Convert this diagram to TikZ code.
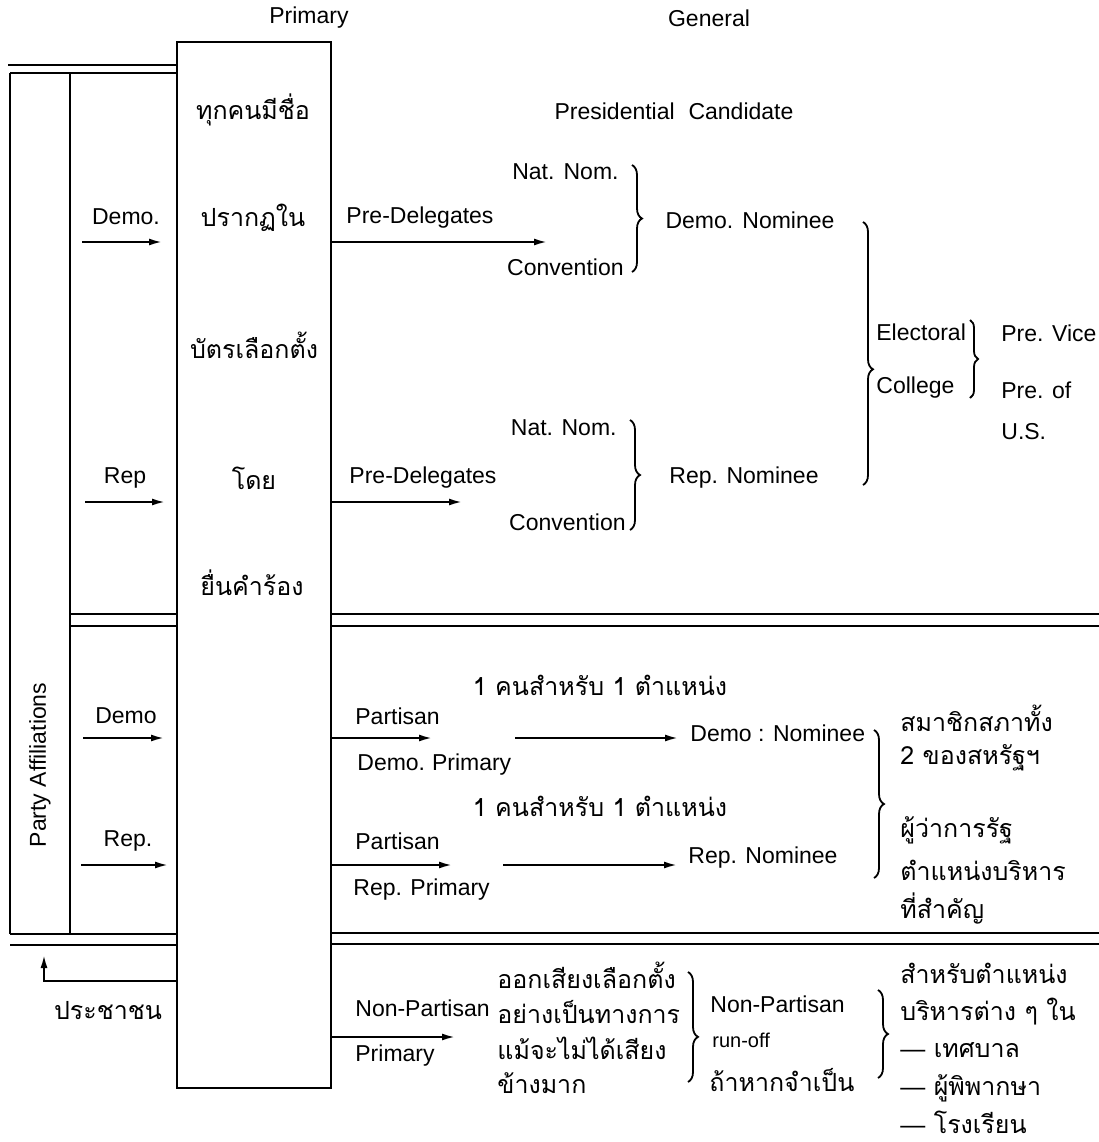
\documentclass[tikz,border=0pt]{standalone}
\usepackage{fontspec}
\setmainfont{Liberation Sans}
\newfontfamily\thai[Script=Thai]{Loma}
\usetikzlibrary{arrows.meta, decorations.pathreplacing}

\tikzset{
  lbl/.style={font=\fontsize{11.5}{13}\selectfont, inner sep=0pt},
  sml/.style={font=\fontsize{10}{12}\selectfont, inner sep=0pt},
  th/.style={font=\thai\fontsize{12.5}{15}\selectfont, inner sep=0pt},
  arr/.style={line width=1pt, -{Latex[length=6.5pt,width=3.5pt]}},
  brc/.style={line width=0.9pt, decorate, decoration={brace, amplitude=5pt}},
  rule/.style={line width=1.1pt}
}

\begin{document}
\begin{tikzpicture}[x=0.5pt, y=-0.5pt]
        \useasboundingbox (0,0) rectangle (1099,1142);

        % frame
        \draw[rule] (177,42) rectangle (331,1088);
        \draw[rule] (8,65) -- (177,65);
        \draw[rule] (10,73) -- (177,73);
        \draw[rule] (10,73) -- (10,934);
        \draw[rule] (70,73) -- (70,934);
        \draw[rule] (70,614) -- (177,614);
        \draw[rule] (70,626) -- (177,626);
        \draw[rule] (331,614) -- (1099,614);
        \draw[rule] (331,626) -- (1099,626);
        \draw[rule] (10,934) -- (177,934);
        \draw[rule] (10,945) -- (177,945);
        \draw[rule] (331,933) -- (1099,933);
        \draw[rule] (331,944) -- (1099,944);

        \node[lbl] (prim) at (309,18) {Primary};
        \node[lbl] (gen) at (709,18) {General};
        \node[lbl] (pres) at (674,111) {Presidential\hspace{0.6em}Candidate};

        % inside the primary box
        \node[th] (b1) at (253,110) {ทุกคนมีชื่อ};
        \node[th] (b2) at (253,218) {ปรากฏใน};
        \node[th] (b3) at (254,345) {บัตรเลือกตั้ง};
        \node[th] (b4) at (254,478) {โดย};
        \node[th] (b5) at (252,583) {ยื่นคำร้อง};

        % left column
        \node[lbl, rotate=90] (party) at (40,765) {Party Affiliations};
        \node[lbl] (ldem1) at (126,217) {Demo.};
        \node[lbl] (lrep1) at (125,478) {Rep};
        \node[lbl] (ldem2) at (126,716) {Demo};
        \node[lbl] (lrep2) at (128,841) {Rep.};
        \coordinate (a1s) at (82,242);  \coordinate (a1e) at (162,242);
        \coordinate (a2s) at (85,502);  \coordinate (a2e) at (165,502);
        \coordinate (a3s) at (83,738);  \coordinate (a3e) at (164,738);
        \coordinate (a4s) at (81,865);  \coordinate (a4e) at (168,865);
        \draw[arr] (a1s) -- (a1e);
        \draw[arr] (a2s) -- (a2e);
        \draw[arr] (a3s) -- (a3e);
        \draw[arr] (a4s) -- (a4e);

        \node[th] (people) at (108,1011) {ประชาชน};
        \coordinate (ups) at (177,981); \coordinate (upe) at (44,955);
        \draw[arr] (ups) -| (upe);

        % presidential, demo
        \node[lbl] (pd1) at (420,218) {Pre-Delegates};
        \coordinate (p1s) at (331,242); \coordinate (p1e) at (547,242);
        \draw[arr] (p1s) -- (p1e);
        \node[lbl, anchor=east] (nn1) at (619,172) {Nat.\hspace{0.4em}Nom.};
        \node[lbl, anchor=east] (cv1) at (624,267) {Convention};
        \draw[brc] (632,165) -- (632,272);
        \node[lbl] (dnom) at (750,220) {Demo.\hspace{0.4em}Nominee};

        % presidential, rep
        \node[lbl] (pd2) at (423,478) {Pre-Delegates};
        \coordinate (p2s) at (331,502); \coordinate (p2e) at (462,502);
        \draw[arr] (p2s) -- (p2e);
        \node[lbl, anchor=east] (nn2) at (617,428) {Nat. Nom.};
        \node[lbl, anchor=east] (cv2) at (626,522) {Convention};
        \draw[brc] (630,420) -- (630,530);
        \node[lbl] (rnom) at (744,478) {Rep. Nominee};

        % electoral college
        \draw[brc, decoration={aspect=0.56}] (863,222) -- (863,485);
        \node[lbl, anchor=west] (elec) at (876,332) {Electoral};
        \node[lbl, anchor=west] (coll) at (876,388) {College};
        \draw[brc, decoration={amplitude=4pt}] (970,320) -- (970,398);
        \node[lbl, anchor=west] (vice) at (1001,333) {Pre. Vice};
        \node[lbl, anchor=west] (preof) at (1001,390) {Pre. of};
        \node[lbl, anchor=west] (us) at (1001,432) {U.S.};

        % partisan
        \node[th] (one1) at (600,685) {1 คนสำหรับ 1 ตำแหน่ง};
        \node[lbl, anchor=west] (pt1) at (355,716) {Partisan};
        \node[lbl, anchor=west] (dp) at (357,765) {Demo.\hspace{0.3em}Primary};
        \coordinate (q1s) at (331,738); \coordinate (q1e) at (432,738);
        \coordinate (q2s) at (515,738); \coordinate (q2e) at (678,738);
        \draw[arr] (q1s) -- (q1e);
        \draw[arr] (q2s) -- (q2e);
        \node[lbl, anchor=west] (dnom2) at (690,733) {Demo : Nominee};

        \node[th] (one2) at (600,806) {1 คนสำหรับ 1 ตำแหน่ง};
        \node[lbl, anchor=west] (pt2) at (355,841) {Partisan};
        \node[lbl, anchor=west] (rp) at (353,890) {Rep. Primary};
        \coordinate (q3s) at (331,865); \coordinate (q3e) at (452,865);
        \coordinate (q4s) at (503,865); \coordinate (q4e) at (677,865);
        \draw[arr] (q3s) -- (q3e);
        \draw[arr] (q4s) -- (q4e);
        \node[lbl, anchor=west] (rnom2) at (688,858) {Rep. Nominee};

        \draw[brc] (874,730) -- (874,878);
        \node[th, anchor=west] (c1) at (900,718) {สมาชิกสภาทั้ง};
        \node[th, anchor=west] (c2) at (900,758) {2 ของสหรัฐฯ};
        \node[th, anchor=west] (c3) at (900,830) {ผู้ว่าการรัฐ};
        \node[th, anchor=west] (c4) at (900,870) {ตำแหน่งบริหาร};
        \node[th, anchor=west] (c5) at (900,908) {ที่สำคัญ};

        % non-partisan
        \node[lbl, anchor=west] (np) at (355,1008) {Non-Partisan};
        \node[lbl, anchor=west] (npp) at (355,1056) {Primary};
        \coordinate (r1s) at (331,1037); \coordinate (r1e) at (455,1037);
        \draw[arr] (r1s) -- (r1e);
        \node[th, anchor=west] (v1) at (497,975) {ออกเสียงเลือกตั้ง};
        \node[th, anchor=west] (v2) at (497,1012) {อย่างเป็นทางการ};
        \node[th, anchor=west] (v3) at (497,1048) {แม้จะไม่ได้เสียง};
        \node[th, anchor=west] (v4) at (497,1083) {ข้างมาก};
        \draw[brc, decoration={aspect=0.59}] (688,972) -- (688,1082);
        \node[lbl, anchor=west] (np2) at (710,1004) {Non-Partisan};
        \node[sml, anchor=west] (ro) at (712,1040) {run-off};
        \node[th, anchor=west] (ifn) at (709,1080) {ถ้าหากจำเป็น};
        \draw[brc] (878,990) -- (878,1078);
        \node[th, anchor=west] (o1) at (900,973) {สำหรับตำแหน่ง};
        \node[th, anchor=west] (o2) at (900,1012) {บริหารต่าง ๆ ใน};
        \node[th, anchor=west] (o3) at (900,1050) {{\rmfamily —}\ เทศบาล};
        \node[th, anchor=west] (o4) at (900,1088) {{\rmfamily —}\ ผู้พิพากษา};
        \node[th, anchor=west] (o5) at (900,1122) {{\rmfamily —}\ โรงเรียน};
\end{tikzpicture}
\end{document}
